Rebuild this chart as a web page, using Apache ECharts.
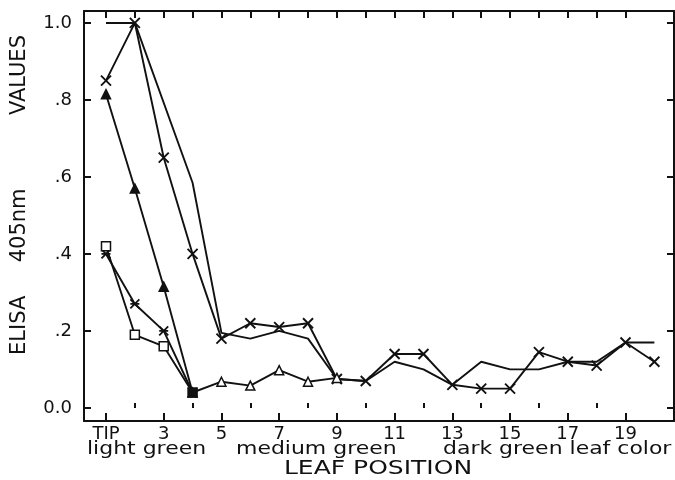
<!DOCTYPE html>
<html><head><meta charset="utf-8">
<script src="https://cdn.jsdelivr.net/npm/echarts@6/dist/echarts.min.js"></script>
<style>html,body{margin:0;padding:0;background:#fff}#c{width:675px;height:480px}</style>
</head><body><div id="c"></div>
<script>
// ---- data ----
const positions = [1,2,3,4,5,6,7,8,9,10,11,12,13,14,15,16,17,18,19,20];
const crossSeries = [0.85,1.00,0.65,0.40,0.18,0.22,0.21,0.22,0.075,0.07,0.14,0.14,0.06,0.05,0.05,0.145,0.12,0.11,0.17,0.12];
const plainSeries = [1.00,1.00,null,0.585,0.195,0.18,0.20,0.18,0.075,0.07,0.12,0.10,0.06,0.12,0.10,0.10,0.12,0.12,0.17,0.17];
const trianglePositions = [1,2,3,4,5,6,7,8,9];
const triangleSeries = [0.815,0.57,0.315,0.04,0.068,0.058,0.098,0.068,0.078];
const squarePositions = [1,2,3,4];
const squareSeries = [0.42,0.19,0.16,0.04];
const bowtiePositions = [1,2,3,4];
const bowtieSeries = [0.40,0.27,0.20,0.04];
const xLabelValues = [1,3,5,7,9,11,13,15,17,19];
const xLabelTexts = ['TIP','3','5','7','9','11','13','15','17','19'];
const yLabelValues = [0,0.2,0.4,0.6,0.8,1.0];
const yLabelTexts = ['0.0','.2','.4','.6','.8','1.0'];
const xMinorTicks = [2,4,6,8,10,12,14,16,18];
const xAllTicks = [1,2,3,4,5,6,7,8,9,10,11,12,13,14,15,16,17,18,19];
const colorBands = ['light green','medium green','dark green leaf color'];
const xTitle = 'LEAF POSITION';
const yTitle = 'ELISA     405nm           VALUES';

// ---- chart ----
const FONT = 'DejaVu Sans';
const XMIN = 0.238, XMAX = 20.68, YMIN = -0.034, YMAX = 1.031;
const BLACK = '#111';
const axisLine = {show:true,onZero:false,lineStyle:{color:BLACK,width:2}};
const pairs = (xs, ys) => xs.map((x,i)=>[x, ys[i]]);

const CROSS = 'path://M0,0L10,10M10,0L0,10';
const BOWTIE = 'path://M0,0L10,10M10,0L0,10M0,5L10,5';

const chart = echarts.init(document.getElementById('c'), null, {renderer:'canvas'});
const baseLine = {type:'line', xAxisIndex:0, yAxisIndex:0, animation:false, silent:true,
  lineStyle:{color:BLACK,width:1.9}, emphasis:{disabled:true}};

chart.setOption({
  backgroundColor:'#fff',
  animation:false,
  grid:{left:84, right:1, top:11, bottom:59, containLabel:false, outerBoundsMode:'none'},
  xAxis:[
    {type:'value', min:XMIN, max:XMAX, position:'bottom', axisLine,
     splitLine:{show:false},
     axisTick:{show:true, inside:true, length:8, lineStyle:{color:BLACK,width:2}, customValues:xLabelValues},
     axisLabel:{show:true, customValues:xLabelValues, margin:4, color:BLACK, fontFamily:FONT, fontSize:18,
       formatter:v=>{const i=xLabelValues.findIndex(p=>Math.abs(p-v)<1e-6);return i>=0?xLabelTexts[i]:'';}}},
    {type:'value', min:XMIN, max:XMAX, position:'bottom', axisLine:{show:false},
     splitLine:{show:false}, axisLabel:{show:false},
     axisTick:{show:true, inside:true, length:5, lineStyle:{color:BLACK,width:2}, customValues:xMinorTicks}},
    {type:'value', min:XMIN, max:XMAX, position:'top', axisLine,
     splitLine:{show:false}, axisLabel:{show:false},
     axisTick:{show:true, inside:true, length:7, lineStyle:{color:BLACK,width:2}, customValues:xAllTicks}}
  ],
  yAxis:[
    {type:'value', min:YMIN, max:YMAX, position:'left', axisLine,
     splitLine:{show:false},
     axisTick:{show:true, inside:true, length:7, lineStyle:{color:BLACK,width:2}, customValues:yLabelValues},
     axisLabel:{show:true, customValues:yLabelValues, margin:12, color:BLACK, fontFamily:FONT, fontSize:18,
       formatter:v=>{const i=yLabelValues.findIndex(p=>Math.abs(p-v)<1e-6);return i>=0?yLabelTexts[i]:'';}}},
    {type:'value', min:YMIN, max:YMAX, position:'right', axisLine,
     splitLine:{show:false}, axisLabel:{show:false},
     axisTick:{show:true, inside:true, length:7, lineStyle:{color:BLACK,width:2}, customValues:yLabelValues}}
  ],
  graphic:[
    {type:'text', x:87, y:440, scaleX:1.22, style:{text:colorBands[0], font:'18px "DejaVu Sans"', fill:BLACK, align:'left', verticalAlign:'top'}},
    {type:'text', x:236, y:440, scaleX:1.22, style:{text:colorBands[1], font:'18px "DejaVu Sans"', fill:BLACK, align:'left', verticalAlign:'top'}},
    {type:'text', x:443, y:440, scaleX:1.22, style:{text:colorBands[2], font:'18px "DejaVu Sans"', fill:BLACK, align:'left', verticalAlign:'top'}},
    {type:'text', x:378, y:469, scaleX:1.25, style:{text:xTitle, font:'20px "DejaVu Sans"', fill:BLACK, align:'center', verticalAlign:'middle'}},
    {type:'text', x:20, y:195, rotation:Math.PI/2, style:{text:yTitle, font:'21px "DejaVu Sans"', fill:BLACK, align:'center', verticalAlign:'middle'}}
  ],
  series:[
    Object.assign({}, baseLine, {name:'plain', data:pairs(positions, plainSeries), connectNulls:true, showSymbol:false, symbol:'none', z:2}),
    Object.assign({}, baseLine, {name:'cross', data:pairs(positions, crossSeries), symbol:CROSS, symbolSize:10,
      itemStyle:{color:'rgba(0,0,0,0)', borderColor:BLACK, borderWidth:1.9}, z:3}),
    Object.assign({}, baseLine, {name:'triangle', symbol:'triangle', symbolSize:9, z:4,
      data:trianglePositions.map((x,i)=>({value:[x, triangleSeries[i]],
        itemStyle:{color: i<3 ? BLACK : '#fff', borderColor:BLACK, borderWidth:1.5}}))}),
    Object.assign({}, baseLine, {name:'bowtie', data:pairs(bowtiePositions, bowtieSeries), symbol:BOWTIE, symbolSize:9,
      itemStyle:{color:'rgba(0,0,0,0)', borderColor:BLACK, borderWidth:1.8}, z:5}),
    Object.assign({}, baseLine, {name:'square', symbol:'rect', symbolSize:9, z:6,
      data:squarePositions.map((x,i)=>({value:[x, squareSeries[i]],
        itemStyle:{color: i===3 ? BLACK : '#fff', borderColor:BLACK, borderWidth:1.5}}))})
  ]
});
</script>
</body></html>
